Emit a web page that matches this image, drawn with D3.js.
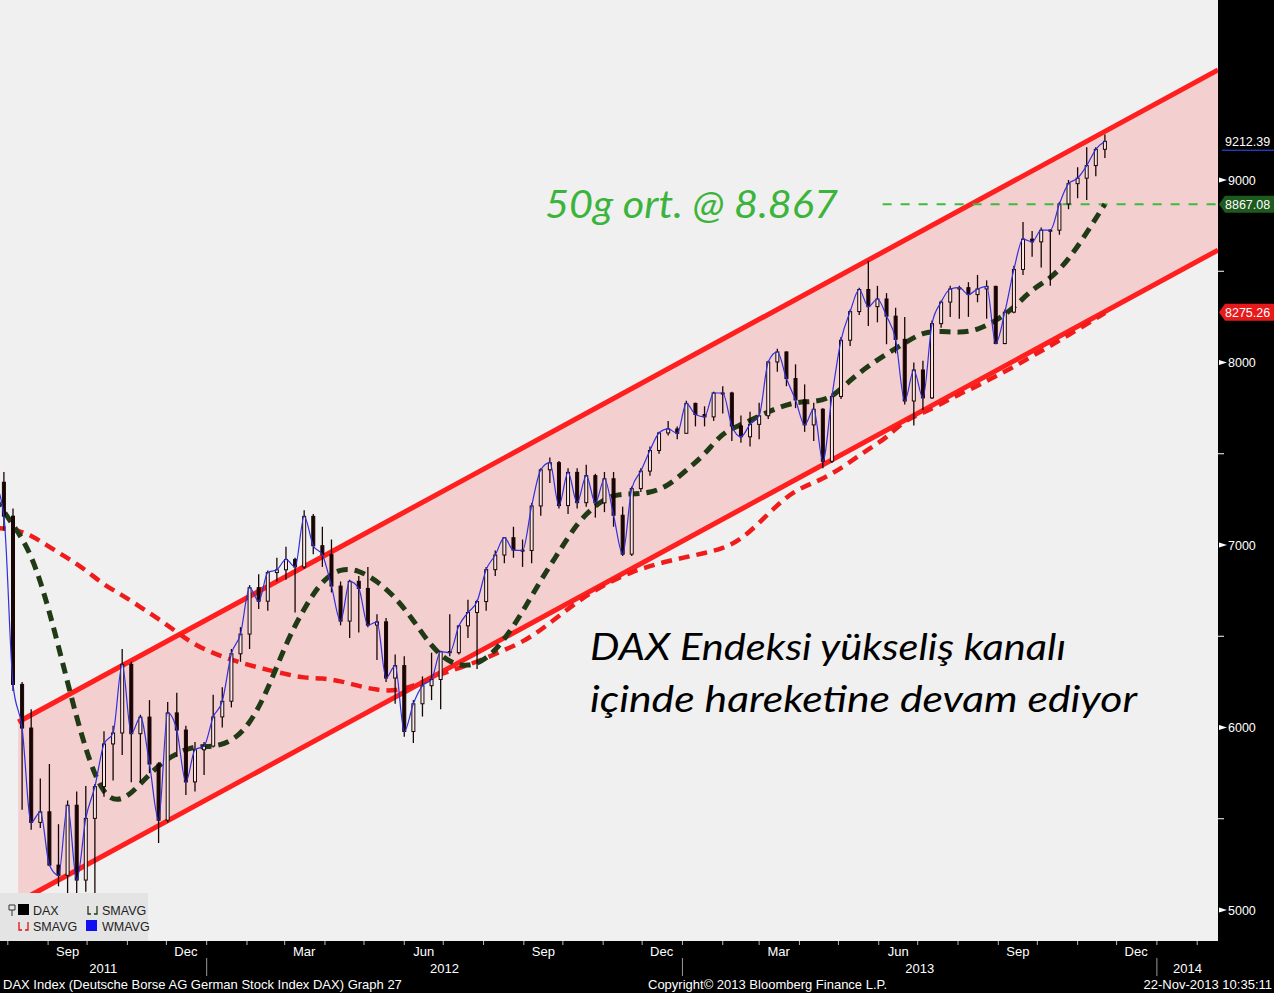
<!DOCTYPE html>
<html><head><meta charset="utf-8">
<script src="https://cdn.jsdelivr.net/npm/d3@7"></script>
<style>body{margin:0;background:#000;overflow:hidden} svg{display:block}</style>
</head><body><svg id="c" width="1274" height="993"></svg>
<script>
// ---------- DATA (weekly bars, week ending Fridays 2011-07-22 .. 2013-11-22) ----------
const firstWeek = "2011-07-22", lastWeek = "2013-11-22";
const openW = [7220,7344,7158,6236,5997,5480,5538,5246,5190,5574,5164,5502,5676,5910,5970,6346,5966,6057,5800,5492,6080,5986,5702,5878,
5898,6058,6144,6404,6512,6766,6692,6849,6864,6921,6880,7157,6996,6947,6775,6583,6801,6762,6561,6579,6271,6339,5978,6130,6229,6263,6416,6410,6557,6630,6690,6865,6945,7040,6972,6970,7214,7412,7451,7216,7398,7232,7380,7231,7363,7163,6950,7309,7405,7518,7614,7636,
7612,7776,7715,7702,7833,7833,7652,7593,7661,7708,8003,8058,7912,7795,7658,7744,7459,7814,8122,8279,8400,8306,8348,8254,8127,7789,7959,7806,8213,8331,8403,8410,8372,8403,8417,8104,8276,8510,8676,8661,8725,8725,8869,8980,9010,9079,9168];
const highW = [7350,7400,7200,6250,6100,5720,5800,5470,5600,5650,5680,5690,5980,6010,6430,6360,6070,6150,5810,6140,6190,6010,5920,5920,
6180,6220,6430,6550,6780,6840,6860,6930,6990,6930,7190,7170,7100,7030,6800,6810,6830,6880,6620,6600,6400,6390,6150,6280,6410,6420,6620,6560,6700,6700,6880,6970,7040,7100,7030,7230,7420,7480,7460,7420,7420,7440,7390,7400,7400,7210,7320,7420,7540,7620,7680,7650,
7790,7780,7760,7840,7870,7840,7710,7730,7780,8010,8075,8060,7990,7880,7780,7750,7830,8140,8290,8410,8558,8420,8380,8300,8250,8000,8010,8230,8340,8420,8420,8440,8480,8450,8420,8290,8530,8770,8720,8740,8730,8880,9000,9070,9180,9180,9250];
const lowW = [7150,7080,6200,5550,5440,5450,5240,5130,4965,4990,5100,5070,5620,5710,5850,5700,5700,5750,5367,5480,5840,5630,5650,5740,
5890,6000,6110,6360,6430,6650,6640,6800,6810,6630,6870,6950,6880,6740,6560,6490,6520,6550,6370,6250,6130,5950,5915,6060,6150,6100,6390,6400,6490,6320,6640,6830,6900,6930,6880,6900,7160,7340,7200,7170,7200,7210,7150,7180,7100,6940,6940,7290,7380,7500,7600,7580,
7610,7650,7650,7680,7720,7570,7560,7540,7580,7690,7950,7870,7750,7620,7570,7420,7450,7800,8090,8260,8200,8220,8100,8050,7770,7655,7740,7800,8190,8250,8240,8250,8330,8240,8100,8100,8270,8480,8580,8520,8420,8700,8840,8900,8890,9020,9120];
const closeW = [7344,7158,6236,5997,5480,5538,5246,5190,5574,5164,5502,5676,5910,5970,6346,5966,6057,5800,5492,6080,5986,5702,5878,5898,
6058,6144,6404,6512,6766,6692,6849,6864,6921,6880,7157,6996,6947,6775,6583,6801,6762,6561,6579,6271,6339,5978,6130,6229,6263,6416,6410,6557,6630,6690,6865,6945,7040,6972,6970,7214,7412,7451,7216,7398,7232,7380,7231,7363,7163,6950,7309,7405,7518,7614,7636,7612,
7776,7715,7702,7833,7833,7652,7593,7661,7708,8003,8058,7912,7795,7658,7744,7459,7814,8122,8279,8400,8306,8348,8254,8127,7789,7959,7806,8213,8331,8403,8410,8372,8403,8417,8104,8276,8510,8676,8661,8725,8725,8869,8980,9010,9079,9168,9212];
// moving averages, sampled every second week (weeks 0,2,4,...,122)
const sma50 = [7258,7110,6962,6644,6244,5866,5614,5592,5690,5795,5860,5899,5893,5921,6014,6205,6463,6655,6808,6874,6863,6803,6715,6589,6441,6353,6332,6370,6479,6633,6808,
6962,7121,7219,7279,7279,7285,7323,7411,7493,7619,7658,7707,7751,7784,7784,7805,7904,7981,8047,8107,8167,8173,8162,8178,8227,8299,8403,8458,8562,8710,8868];
const sma200 = [7093,7088,7055,6989,6929,6863,6781,6726,6660,6595,6523,6452,6408,6370,6342,6315,6293,6271,6271,6255,6227,6205,6200,6227,6271,6310,6342,6381,6425,6468,6534,
6611,6688,6753,6808,6852,6885,6912,6934,6956,6980,7030,7120,7220,7301,7340,7389,7455,7526,7586,7685,7723,7773,7827,7871,7926,7975,8036,8090,8151,8211,8271];
// channel (trend lines) end points
const upperChannel = [["2011-08-09",6030],["2014-02-17",9603]];
const lowerChannel = [["2011-08-09",5044],["2014-02-17",8616]];
const sma50Level = {start:"2013-06-04", end:"2014-02-17", value:8867.08};
const yTicks = [5000,6000,7000,8000,9000];
const yMinor = [5500,6500,7500,8500];
const lastTags = [{v:9212.39, kind:"last"},{v:8867.08, kind:"sma50"},{v:8275.26, kind:"sma200"}];
const quarterMonths = [2,5,8,11];
const monthNames = ["Jan","Feb","Mar","Apr","May","Jun","Jul","Aug","Sep","Oct","Nov","Dec"];
const yearLabels = [2011,2012,2013,2014];

// ---------- LAYOUT ----------
const PW = 1218, PH = 941, W = 1274, H = 993;
const svg = d3.select("#c");
const x = d3.scaleUtc().domain([new Date("2011-07-26"), new Date("2014-02-17")]).range([0, PW]);
const y = d3.scaleLinear().domain([5000, 9000]).range([910, 180]);
const weeks = d3.utcFriday.range(new Date(firstWeek), d3.utcDay.offset(new Date(lastWeek), 1));
const bars = weeks.map((d,i)=>({d, o:openW[i], h:highW[i], l:lowW[i], c:closeW[i]}));
const maDates = weeks.filter((d,i)=>i%2===0);

svg.append("rect").attr("width",W).attr("height",H).attr("fill","#000");
svg.append("rect").attr("width",PW).attr("height",PH).attr("fill","#f0f0f0");
svg.append("defs").append("clipPath").attr("id","clip").append("rect").attr("width",PW).attr("height",PH);
const plot = svg.append("g").attr("clip-path","url(#clip)");

// channel fill
const uc = upperChannel.map(p=>[x(new Date(p[0])), y(p[1])]);
const lc = lowerChannel.map(p=>[x(new Date(p[0])), y(p[1])]);
plot.append("path").attr("d", d3.line()([uc[0],uc[1],lc[1],lc[0]])+"Z").attr("fill","#f4cfcf");

// legend box (under data)
const leg = svg.append("g");
leg.append("rect").attr("x",0).attr("y",893).attr("width",148).attr("height",48).attr("fill","#e4e4e4");

// channel lines
[uc,lc].forEach(pts=>plot.append("path").attr("d",d3.line()(pts)).attr("stroke","#ff1f1f").attr("stroke-width",5).attr("fill","none"));

// horizontal sma50 level
plot.append("line").attr("x1",x(new Date(sma50Level.start))).attr("x2",x(new Date(sma50Level.end)))
  .attr("y1",y(sma50Level.value)).attr("y2",y(sma50Level.value))
  .attr("stroke","#3dbb3d").attr("stroke-width",2).attr("stroke-dasharray","9,9");

// moving averages
const maLine = d3.line().x((d,i)=>x(maDates[i])).y(d=>y(d)).curve(d3.curveBasis);
plot.append("path").attr("d",maLine(sma200)).attr("fill","none").attr("stroke","#f01c1c").attr("stroke-width",4.5).attr("stroke-dasharray","11,7");
plot.append("path").attr("d",maLine(sma50)).attr("fill","none").attr("stroke","#1f3a15").attr("stroke-width",5).attr("stroke-dasharray","11,7");

// candles
const cg = plot.append("g");
cg.selectAll("line.w").data(bars).join("line")
  .attr("x1",b=>x(b.d)).attr("x2",b=>x(b.d)).attr("y1",b=>y(b.h)).attr("y2",b=>y(b.l))
  .attr("stroke","#1a0505").attr("stroke-width",1.3);
cg.selectAll("rect").data(bars).join("rect")
  .attr("x",b=>x(b.d)-1.5).attr("width",3)
  .attr("y",b=>y(Math.max(b.o,b.c))).attr("height",b=>Math.max(1,Math.abs(y(b.o)-y(b.c))))
  .attr("fill",b=>b.c>=b.o?"#f6e6e6":"#1a0505").attr("stroke","#1a0505").attr("stroke-width",1);
// WMAVG thin blue line
plot.append("path").attr("d",d3.line().x(b=>x(b.d)).y(b=>y(b.c)).curve(d3.curveMonotoneX)(bars))
  .attr("fill","none").attr("stroke","#3030e0").attr("stroke-width",1.2);

// legend contents
leg.append("path").attr("d","M9,905h6v5h-6z M12,910v6").attr("fill","none").attr("stroke","#333").attr("stroke-width",1);
leg.append("rect").attr("x",18).attr("y",904).attr("width",11).attr("height",11).attr("fill","#000");
leg.append("path").attr("d","M19,922V930H22M25,930H28V922").attr("fill","none").attr("stroke","#e01010").attr("stroke-width",1.3);
leg.append("path").attr("d","M88,906V914H91M94,914H97V906").attr("fill","none").attr("stroke","#1f3a15").attr("stroke-width",1.3);
leg.append("rect").attr("x",86).attr("y",920).attr("width",11).attr("height",11).attr("fill","#1010f0");
const lt = [["DAX",33,915],["SMAVG",33,931],["SMAVG",102,915],["WMAVG",102,931]];
leg.selectAll("text").data(lt).join("text").attr("x",d=>d[1]).attr("y",d=>d[2]).text(d=>d[0])
  .attr("font-family","Liberation Sans, Arial, sans-serif").attr("font-size",12.5).attr("fill","#222");

// annotations
svg.append("text").attr("x",545).attr("y",218).text("50g ort. @ 8.867")
  .attr("font-family","Lato, 'Open Sans', sans-serif").attr("font-style","italic").attr("font-size",38)
  .attr("fill","#3cb43c").attr("textLength",293).attr("lengthAdjust","spacingAndGlyphs");
svg.append("text").attr("x",590).attr("y",660).text("DAX Endeksi yükseliş kanalı")
  .attr("font-family","Lato, 'Open Sans', sans-serif").attr("font-style","italic").attr("font-size",37)
  .attr("fill","#000").attr("textLength",476).attr("lengthAdjust","spacingAndGlyphs");
svg.append("text").attr("x",590).attr("y",712).text("içinde hareketine devam ediyor")
  .attr("font-family","Lato, 'Open Sans', sans-serif").attr("font-style","italic").attr("font-size",37)
  .attr("fill","#000").attr("textLength",547).attr("lengthAdjust","spacingAndGlyphs");

// right axis
const ax = svg.append("g").attr("font-family","Liberation Sans, Arial, sans-serif").attr("font-size",12.5);
ax.selectAll("path.tri").data(yTicks).join("path")
  .attr("d",v=>`M1219,${y(v)-2.5}L1227,${y(v)}L1219,${y(v)+2.5}Z`).attr("fill","#fff");
ax.selectAll("text.tk").data(yTicks).join("text").attr("x",1228).attr("y",v=>y(v)+4.5).text(v=>v).attr("fill","#fff");
ax.selectAll("line.mn").data(yMinor).join("line").attr("x1",1218).attr("x2",1224).attr("y1",v=>y(v)).attr("y2",v=>y(v)).attr("stroke","#fff");
lastTags.forEach(t=>{
  const yy = y(t.v);
  if(t.kind==="last"){
    ax.append("line").attr("x1",1222).attr("x2",1274).attr("y1",yy+9).attr("y2",yy+9).attr("stroke","#3050ff").attr("stroke-width",1);
  } else {
    ax.append("path").attr("d",`M1219,${yy}L1225,${yy-8.5}H1274V${yy+8.5}H1225Z`).attr("fill",t.kind==="sma50"?"#1d5a1d":"#e61a1a");
  }
  ax.append("text").attr("x",1225).attr("y",yy+4.5).text(t.v.toFixed(2)).attr("fill","#fff");
});

// bottom axis
const bx = svg.append("g").attr("font-family","Liberation Sans, Arial, sans-serif").attr("font-size",13).attr("fill","#fff");
const months = d3.utcMonth.range(x.domain()[0], x.domain()[1]);
bx.selectAll("line.mt").data(months).join("line").attr("x1",d=>x(d)).attr("x2",d=>x(d)).attr("y1",941).attr("y2",945).attr("stroke","#bbb");
bx.selectAll("text.mo").data(months.filter(d=>quarterMonths.includes(d.getUTCMonth()))).join("text")
  .attr("x",d=>x(d3.utcDay.offset(d,15))).attr("y",956).attr("text-anchor","middle").text(d=>monthNames[d.getUTCMonth()]);
const yearStarts = yearLabels.slice(1).map(yv=>new Date(Date.UTC(yv,0,1)));
bx.selectAll("line.ys").data(yearStarts).join("line").attr("x1",d=>x(d)).attr("x2",d=>x(d)).attr("y1",958).attr("y2",976).attr("stroke","#999");
bx.selectAll("text.yr").data(yearLabels).join("text").attr("text-anchor","middle").attr("y",973)
  .attr("x",yv=>{const a=Math.max(0,x(new Date(Date.UTC(yv,0,1)))), b=Math.min(PW,x(new Date(Date.UTC(yv+1,0,1))));return (a+b)/2;})
  .text(d=>d);
bx.append("text").attr("x",3).attr("y",989).text("DAX Index (Deutsche Borse AG German Stock Index DAX) Graph 27");
bx.append("text").attr("x",648).attr("y",989).text("Copyright© 2013 Bloomberg Finance L.P.");
bx.append("text").attr("x",1272).attr("y",989).attr("text-anchor","end").text("22-Nov-2013 10:35:11");
</script></body></html>
